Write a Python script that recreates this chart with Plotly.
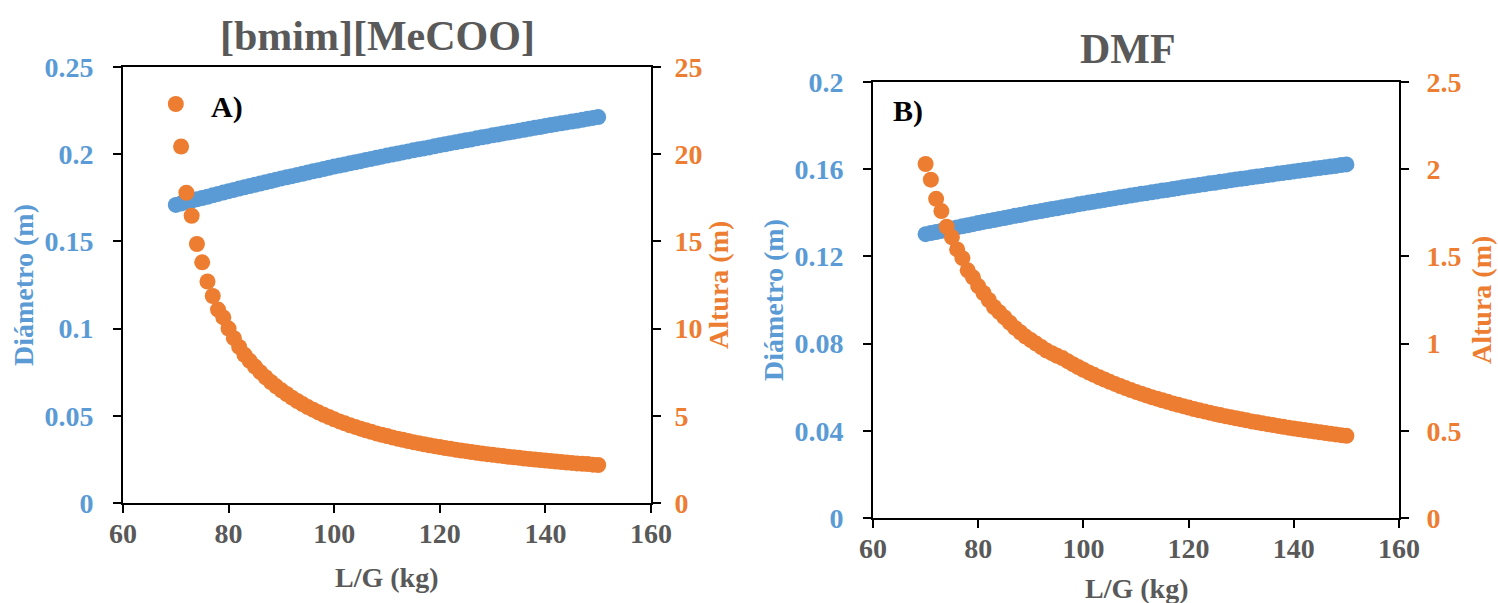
import plotly.graph_objects as go

W, H = 1498, 603

# ---------------- data ----------------
lg = list(range(70, 151))  # L/G (kg)

diam_a = [0.1709, 0.1717, 0.1725, 0.1733, 0.1741, 0.1749, 0.1756, 0.1764, 0.1772, 0.1780,
          0.1788, 0.1795, 0.1803, 0.1810, 0.1817, 0.1825, 0.1832, 0.1839, 0.1846, 0.1854,
          0.1861, 0.1868, 0.1874, 0.1881, 0.1888, 0.1895, 0.1902, 0.1908, 0.1915, 0.1922,
          0.1929, 0.1935, 0.1941, 0.1948, 0.1954, 0.1960, 0.1967, 0.1973, 0.1979, 0.1986,
          0.1992, 0.1998, 0.2004, 0.2010, 0.2016, 0.2022, 0.2028, 0.2033, 0.2039, 0.2045,
          0.2052, 0.2057, 0.2063, 0.2068, 0.2074, 0.2080, 0.2085, 0.2091, 0.2097, 0.2102,
          0.2108, 0.2113, 0.2119, 0.2124, 0.2129, 0.2135, 0.2140, 0.2146, 0.2151, 0.2156,
          0.2162, 0.2167, 0.2172, 0.2177, 0.2182, 0.2187, 0.2192, 0.2197, 0.2203, 0.2208,
          0.2213]

alt_a = [22.88, 20.44, 17.79, 16.47, 14.85, 13.80, 12.70, 11.87, 11.09, 10.64,
         10.00, 9.45, 8.95, 8.50, 8.15, 7.82, 7.50, 7.21, 6.94, 6.69,
         6.46, 6.25, 6.04, 5.85, 5.67, 5.50, 5.35, 5.20, 5.06, 4.93,
         4.80, 4.68, 4.57, 4.46, 4.36, 4.26, 4.17, 4.08, 3.99, 3.91,
         3.84, 3.76, 3.69, 3.62, 3.55, 3.49, 3.43, 3.37, 3.31, 3.26,
         3.21, 3.15, 3.11, 3.06, 3.01, 2.97, 2.92, 2.88, 2.84, 2.80,
         2.76, 2.73, 2.69, 2.65, 2.62, 2.59, 2.55, 2.52, 2.49, 2.46,
         2.43, 2.41, 2.38, 2.35, 2.32, 2.30, 2.27, 2.25, 2.23, 2.20,
         2.18]

diam_b = [0.1302, 0.1307, 0.1312, 0.1317, 0.1322, 0.1328, 0.1333, 0.1338, 0.1343, 0.1348,
          0.1353, 0.1358, 0.1362, 0.1367, 0.1372, 0.1376, 0.1381, 0.1386, 0.1390, 0.1395,
          0.1400, 0.1404, 0.1408, 0.1413, 0.1417, 0.1421, 0.1426, 0.1430, 0.1434, 0.1439,
          0.1443, 0.1447, 0.1451, 0.1455, 0.1459, 0.1463, 0.1467, 0.1471, 0.1475, 0.1479,
          0.1483, 0.1487, 0.1490, 0.1494, 0.1498, 0.1502, 0.1505, 0.1509, 0.1513, 0.1517,
          0.1521, 0.1524, 0.1528, 0.1531, 0.1535, 0.1538, 0.1542, 0.1545, 0.1549, 0.1553,
          0.1556, 0.1559, 0.1563, 0.1566, 0.1569, 0.1573, 0.1576, 0.1580, 0.1583, 0.1586,
          0.1590, 0.1593, 0.1596, 0.1599, 0.1603, 0.1606, 0.1609, 0.1612, 0.1615, 0.1619,
          0.1622]

alt_b = [2.03, 1.94, 1.83, 1.76, 1.67, 1.61, 1.54, 1.49, 1.42, 1.38,
         1.33, 1.29, 1.25, 1.21, 1.18, 1.15, 1.12, 1.09, 1.065, 1.04,
         1.02, 1.00, 0.98, 0.96, 0.945, 0.93, 0.917, 0.899, 0.882, 0.866,
         0.850, 0.835, 0.821, 0.807, 0.794, 0.781, 0.769, 0.757, 0.745, 0.734,
         0.723, 0.713, 0.703, 0.693, 0.684, 0.675, 0.666, 0.657, 0.649, 0.641,
         0.633, 0.625, 0.618, 0.611, 0.604, 0.597, 0.590, 0.584, 0.578, 0.572,
         0.566, 0.560, 0.554, 0.549, 0.543, 0.538, 0.533, 0.528, 0.523, 0.518,
         0.513, 0.509, 0.504, 0.500, 0.496, 0.491, 0.487, 0.483, 0.479, 0.475,
         0.471]

x_ticks = [60, 80, 100, 120, 140, 160]
ya_ticks = [0, 0.05, 0.1, 0.15, 0.2, 0.25]
ya_text = ["0", "0.05", "0.1", "0.15", "0.2", "0.25"]
y2a_ticks = [0, 5, 10, 15, 20, 25]
yb_ticks = [0, 0.04, 0.08, 0.12, 0.16, 0.2]
yb_text = ["0", "0.04", "0.08", "0.12", "0.16", "0.2"]
y2b_ticks = [0, 0.5, 1, 1.5, 2, 2.5]
y2b_text = ["0", "0.5", "1", "1.5", "2", "2.5"]

BLUE = "#5B9BD5"
ORANGE = "#ED7D31"
GRAY = "#595959"
FONT = "Liberation Serif"

def px(x):
    return x / W

def py(y):
    return 1 - y / H

fig = go.Figure()
fig.add_trace(go.Scatter(x=lg, y=diam_a, mode="markers", xaxis="x", yaxis="y",
                         marker=dict(color=BLUE, size=16), showlegend=False))
fig.add_trace(go.Scatter(x=lg, y=alt_a, mode="markers", xaxis="x", yaxis="y2",
                         marker=dict(color=ORANGE, size=16), showlegend=False))
fig.add_trace(go.Scatter(x=lg, y=diam_b, mode="markers", xaxis="x2", yaxis="y3",
                         marker=dict(color=BLUE, size=16), showlegend=False))
fig.add_trace(go.Scatter(x=lg, y=alt_b, mode="markers", xaxis="x2", yaxis="y4",
                         marker=dict(color=ORANGE, size=16), showlegend=False))

common = dict(showline=True, linecolor="black", linewidth=2, ticks="outside",
              ticklen=8, tickwidth=2, tickcolor="black", showgrid=False,
              zeroline=False, automargin=False)

def tf(color):
    return dict(family=FONT, size=28, color=color, weight="bold")

fig.update_layout(
    width=W, height=H,
    margin=dict(l=0, r=0, t=0, b=0),
    paper_bgcolor="white", plot_bgcolor="white",
    xaxis=dict(domain=[px(123), px(651)], anchor="y", range=[60, 160],
               tickvals=x_ticks, tickfont=tf(GRAY), mirror=True,
               ticklabelstandoff=-4, **common),
    yaxis=dict(domain=[py(503), py(67)], anchor="x", range=[0, 0.25],
               tickvals=ya_ticks, ticktext=ya_text, tickfont=tf(BLUE),
               ticklabelstandoff=14, **common),
    yaxis2=dict(overlaying="y", side="right", anchor="x", range=[0, 25],
                tickvals=y2a_ticks, tickfont=tf(ORANGE),
                ticklabelstandoff=8, **common),
    xaxis2=dict(domain=[px(873), px(1399)], anchor="y3", range=[60, 160],
                tickvals=x_ticks, tickfont=tf(GRAY), mirror=True,
                ticklabelstandoff=-4, **common),
    yaxis3=dict(domain=[py(518), py(82)], anchor="x2", range=[0, 0.2],
                tickvals=yb_ticks, ticktext=yb_text, tickfont=tf(BLUE),
                ticklabelstandoff=14, **common),
    yaxis4=dict(overlaying="y3", side="right", anchor="x2", range=[0, 2.5],
                tickvals=y2b_ticks, ticktext=y2b_text, tickfont=tf(ORANGE),
                ticklabelstandoff=12, **common),
)

def ann(text, x, y, size, color, angle=0):
    fig.add_annotation(text=text, x=px(x), y=py(y), xref="paper", yref="paper",
                       showarrow=False, xanchor="center", yanchor="middle",
                       textangle=angle,
                       font=dict(family=FONT, size=size, color=color, weight="bold"))

ann("[bmim][MeCOO]", 378, 36, 42, GRAY)
ann("DMF", 1128, 49, 42, GRAY)
ann("Diámetro (m)", 23, 285, 28, BLUE, -90)
ann("Altura (m)", 718, 285, 28, ORANGE, -90)
ann("L/G (kg)", 386, 577, 28, GRAY)
ann("Diámetro (m)", 773, 300, 28, BLUE, -90)
ann("Altura (m)", 1481, 300, 28, ORANGE, -90)
ann("L/G (kg)", 1136, 588, 28, GRAY)
ann("A)", 227, 107, 30, "black")
ann("B)", 908, 111, 30, "black")

fig.write_html(
    "out.html",
    config={"displayModeBar": False},
    post_script="document.body.style.margin='0';document.body.style.overflow='hidden';",
)
